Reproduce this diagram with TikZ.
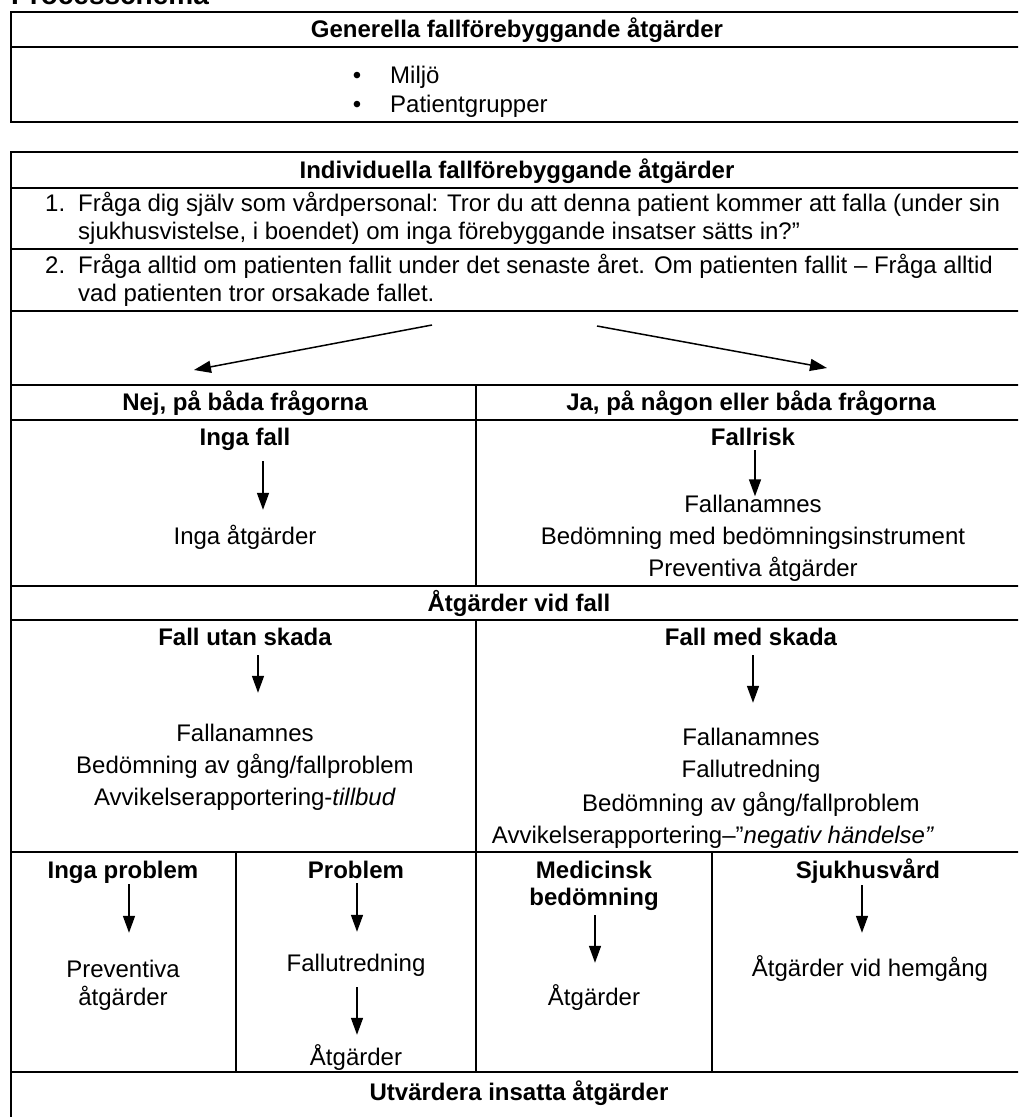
\documentclass[tikz,border=0pt]{standalone}
\usepackage{fontspec}
\setmainfont{Liberation Sans}
\usetikzlibrary{arrows.meta}
\tikzset{
  grid/.style={line width=2pt},
  txt/.style={inner sep=0pt, text height=17pt, text depth=0pt, font=\fontsize{24}{28}\selectfont},
  txttwo/.style={txt, align=center, text height=45pt},
  hd/.style={txt, font=\bfseries\fontsize{24}{28}\selectfont},
  arr/.style={-{Triangle[length=17pt,width=12pt]}, line width=1.5pt}
}
\begin{document}
\begin{tikzpicture}[x=1pt,y=-1pt]
\useasboundingbox (0,0) rectangle (1018,1117);
\clip (0,0) rectangle (1018,1117);

% Title (cut at the top)
\node[anchor=base west, inner sep=0pt, font=\bfseries\fontsize{28}{32}\selectfont] (title) at (11,4) {Processchema};

% General measures
\draw[grid] (11,12) rectangle (1025,122);
\draw[grid] (11,47) -- (1025,47);
\node[hd] (gen) at (517,29) {Generella fallförebyggande åtgärder};
\node[txt] (b1) at (357,75) {•};
\node[txt, anchor=west] (miljo) at (390,75) {Miljö};
\node[txt] (b2) at (357,104) {•};
\node[txt, anchor=west] (patgr) at (390,104) {Patientgrupper};

% Individual measures: frame and rows
\draw[grid] (11,1140) -- (11,152) -- (1025,152) -- (1025,1140);
\foreach \y in {188,249,311,385,420,586,620,852,1072} {
    \draw[grid] (11,\y) -- (1025,\y);
}
\draw[grid] (476,385) -- (476,586);
\draw[grid] (476,620) -- (476,852);
\foreach \x in {236,476,712} {
    \draw[grid] (\x,852) -- (\x,1072);
}

% Questions
\node[hd] (ind) at (517,170) {Individuella fallförebyggande åtgärder};
\node[txt, anchor=west] (n1) at (45,203) {1.};
\node[txttwo, anchor=west, align=left] (q1) at (78,217) {Fråga dig själv som vårdpersonal: Tror du att denna patient kommer att falla (under sin\\sjukhusvistelse, i boendet) om inga förebyggande insatser sätts in?”};
\node[txt, anchor=west] (n2) at (45,265) {2.};
\node[txttwo, anchor=west, align=left] (q2) at (78,279) {Fråga alltid om patienten fallit under det senaste året. Om patienten fallit – Fråga alltid\\vad patienten tror orsakade fallet.};

% Split
\coordinate (splitL) at (432,325);
\coordinate (tipL) at (194,370);
\coordinate (splitR) at (597,326);
\coordinate (tipR) at (827,368);
\draw[arr] (splitL) -- (tipL);
\draw[arr] (splitR) -- (tipR);

% Answers
\node[hd] (nej) at (245,402) {Nej, på båda frågorna};
\node[hd] (ja) at (751,402) {Ja, på någon eller båda frågorna};
\node[hd] (ingafall) at (245,437) {Inga fall};
\node[txt] (ingaatg) at (245,536) {Inga åtgärder};
\node[hd] (fallrisk) at (753,437) {Fallrisk};
\node[txt] (fallanA) at (753,504) {Fallanamnes};
\node[txt] (bedinst) at (753,536) {Bedömning med bedömningsinstrument};
\node[txt] (prevA) at (753,568) {Preventiva åtgärder};
\draw[arr, shorten <=15.5pt, shorten >=17.5pt] ([xshift=18pt]ingafall.south) -- ([xshift=18pt]ingaatg.north);
\draw[arr, shorten <=4.5pt, shorten >=-1pt] ([xshift=2pt]fallrisk.south) -- ([xshift=2pt]fallanA.north);

% Measures at fall
\node[hd] (atgvid) at (519,603) {Åtgärder vid fall};
\node[hd] (utan) at (245,637) {Fall utan skada};
\node[txt] (fallanB) at (245,733) {Fallanamnes};
\node[txt] (bedgangA) at (245,765) {Bedömning av gång/fallproblem};
\node[txt] (avvA) at (245,797) {Avvikelserapportering-\textit{tillbud}};
\node[hd] (med) at (751,637) {Fall med skada};
\node[txt] (fallanC) at (751,737) {Fallanamnes};
\node[txt] (fallutrA) at (751,769) {Fallutredning};
\node[txt] (bedgangB) at (751,803) {Bedömning av gång/fallproblem};
\node[txt] (avvB) at (713,835) {Avvikelserapportering–”\textit{negativ händelse”}};
\draw[arr, shorten <=9.5pt, shorten >=31.5pt] ([xshift=13pt]utan.south) -- ([xshift=13pt]fallanB.north);
\draw[arr, shorten <=9.5pt, shorten >=25.5pt] ([xshift=2pt]med.south) -- ([xshift=2pt]fallanC.north);

% Follow-up
\node[hd] (ingaprob) at (123,870) {Inga problem};
\node[txttwo] (prevB) at (123,983) {Preventiva\\åtgärder};
\node[hd] (problem) at (356,870) {Problem};
\node[txt] (fallutrB) at (356,963) {Fallutredning};
\node[txt] (atgA) at (356,1057) {Åtgärder};
\node[hd, align=center, text height=44pt, font=\bfseries\fontsize{24}{27}\selectfont] (medbed) at (594,883.5) {Medicinsk\\bedömning};
\node[txt] (atgB) at (594,997) {Åtgärder};
\node[hd] (sjuk) at (868,870) {Sjukhusvård};
\node[txt] (hemgang) at (870,968) {Åtgärder vid hemgång};
\draw[arr, shorten <=5.5pt, shorten >=27.5pt] ([xshift=6pt]ingaprob.south) -- ([xshift=6pt]prevB.north);
\draw[arr, shorten <=4.5pt, shorten >=22.5pt] ([xshift=1pt]problem.south) -- ([xshift=1pt]fallutrB.north);
\draw[arr, shorten <=15.5pt, shorten >=13.5pt] ([xshift=1pt]fallutrB.south) -- ([xshift=1pt]atgA.north);
\draw[arr, shorten <=9.5pt, shorten >=25.5pt] ([xshift=1pt]medbed.south) -- ([xshift=1pt]atgB.north);
\draw[arr, shorten <=6.5pt, shorten >=26.5pt] ([xshift=-6pt]sjuk.south) -- ([xshift=-8pt]hemgang.north);

% Evaluation
\node[hd] (utv) at (519,1092) {Utvärdera insatta åtgärder};

\end{tikzpicture}
\end{document}
